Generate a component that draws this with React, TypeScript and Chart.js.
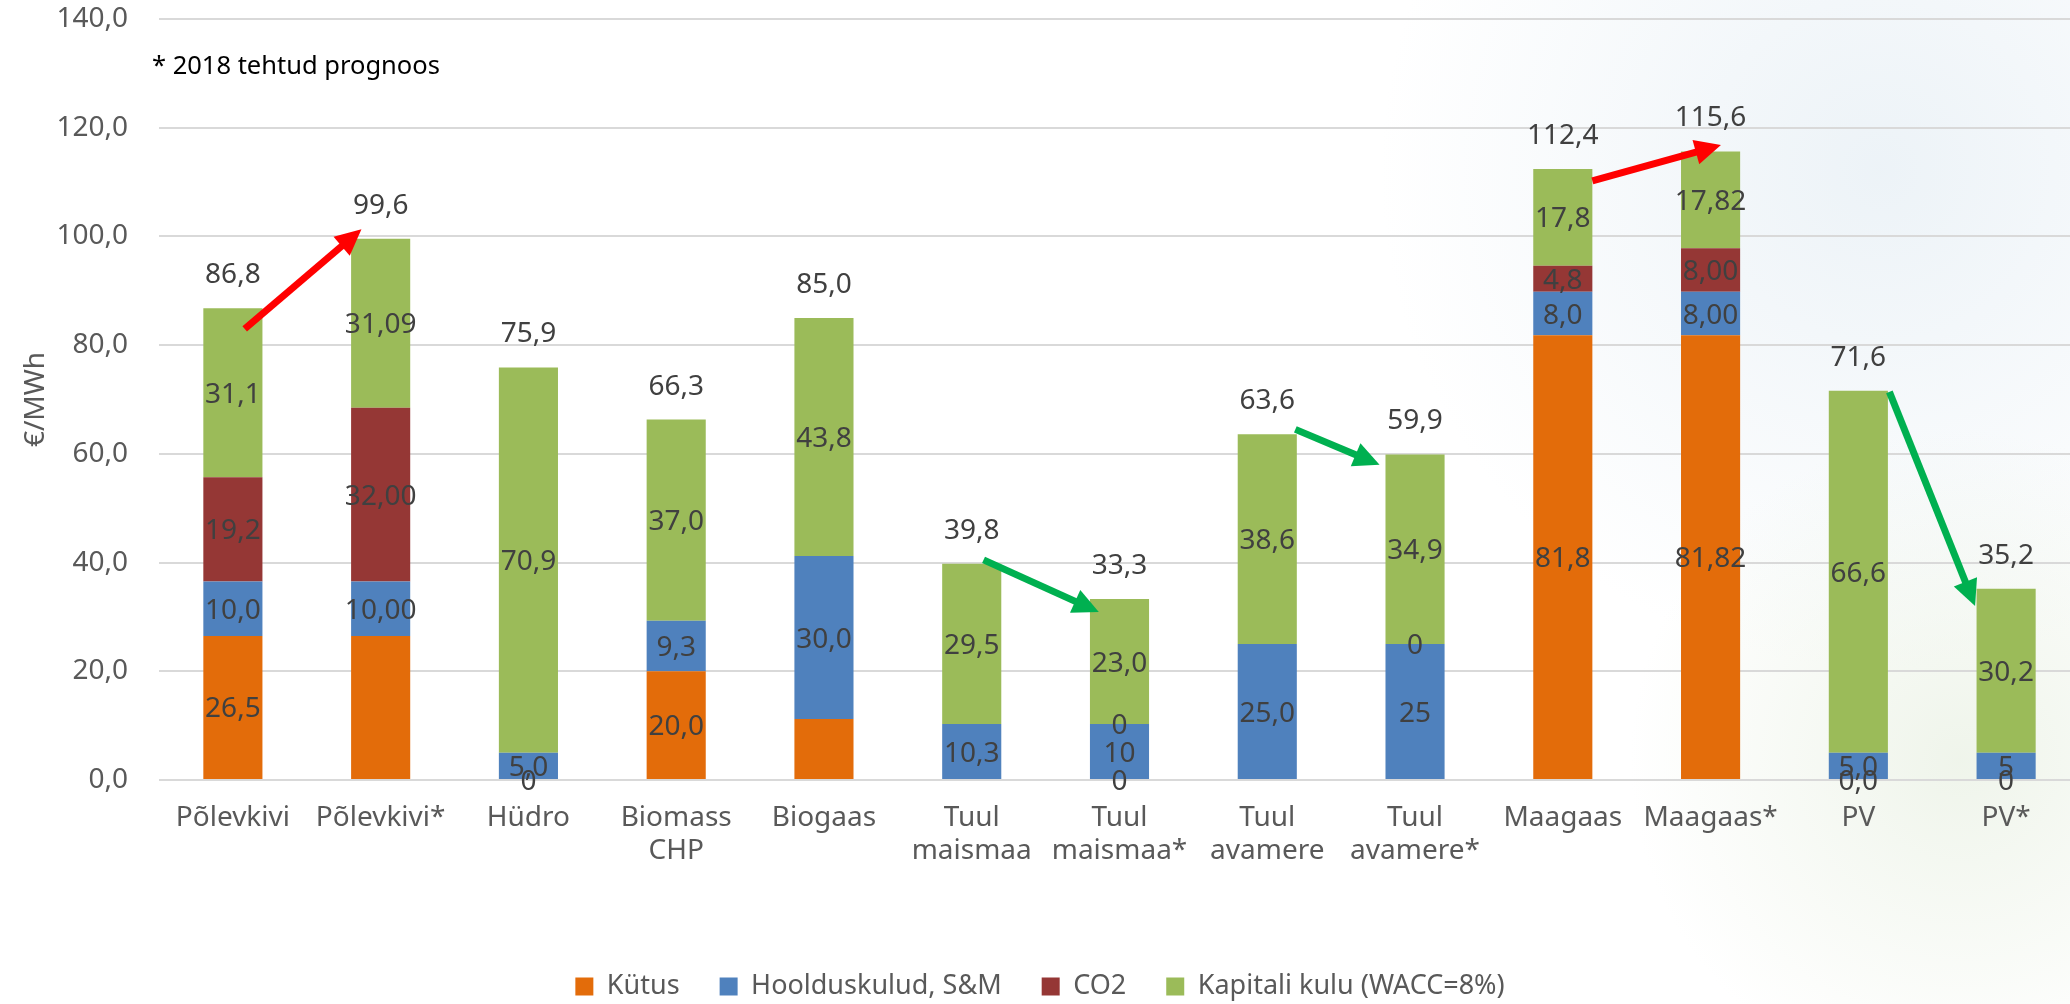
import React, { useEffect, useRef } from "react";
import { Chart, registerables } from "chart.js";

Chart.register(...registerables);

const FONT = "'Noto Sans', 'DejaVu Sans', sans-serif";

// ---- data ----
const categories: (string | string[])[] = [
  "Põlevkivi",
  "Põlevkivi*",
  "Hüdro",
  ["Biomass", "CHP"],
  "Biogaas",
  ["Tuul", "maismaa"],
  ["Tuul", "maismaa*"],
  ["Tuul", "avamere"],
  ["Tuul", "avamere*"],
  "Maagaas",
  "Maagaas*",
  "PV",
  "PV*",
];

const seriesNames = ["Kütus", "Hoolduskulud, S&M", "CO2", "Kapitali kulu (WACC=8%)"];

const kytus = [26.5, 26.5, 0, 20.0, 11.2, null, 0, null, null, 81.8, 81.82, 0, 0];
const hooldus = [10.0, 10.0, 5.0, 9.3, 30.0, 10.3, 10.3, 25.0, 25.0, 8.0, 8.0, 5.0, 5.0];
const co2 = [19.2, 32.0, null, null, null, null, 0, null, 0, 4.8, 8.0, null, null];
const kapital = [31.1, 31.09, 70.9, 37.0, 43.8, 29.5, 23.0, 38.6, 34.9, 17.8, 17.82, 66.6, 30.2];

// decimals used by each data label (null = no label shown)
const kytusDecimals = [1, null, 0, 1, null, null, 0, null, null, 1, 2, 1, 0];
const hooldusDecimals = [1, 2, 1, 1, 1, 1, 0, 1, 0, 1, 2, 1, 0];
const co2Decimals = [1, 2, null, null, null, null, 0, null, 0, 1, 2, null, null];
const kapitalDecimals = [1, 2, 1, 1, 1, 1, 1, 1, 1, 1, 2, 1, 1];

const seriesColors = ["#E36C0A", "#4F81BD", "#953735", "#9BBB59"];

const yTicksMin = 0;
const yTicksMax = 140;
const yTicksStep = 20;

const noteText = "* 2018 tehtud prognoos";
const yTitle = "€/MWh";

// arrows: [category position, value]
const arrowFrom = [
  [0.08, 83.0],
  [9.2, 110.2],
  [5.08, 40.5],
  [7.19, 64.5],
  [11.21, 71.4],
];
const arrowTo = [
  [0.87, 101.3],
  [10.07, 116.8],
  [5.86, 30.9],
  [7.76, 58.0],
  [11.79, 32.0],
];
const arrowColors = ["#FF0000", "#FF0000", "#00B050", "#00B050", "#00B050"];

// ---- helpers ----
const seriesValues = [kytus, hooldus, co2, kapital];
const seriesDecimals = [kytusDecimals, hooldusDecimals, co2Decimals, kapitalDecimals];

function fmt(v: number, d: number) {
  return v.toFixed(d).replace(".", ",");
}

const totals = categories.map((_, i) =>
  seriesValues.reduce((s, arr) => s + (arr[i] == null ? 0 : (arr[i] as number)), 0)
);

function catPixel(chart: any, pos: number) {
  const x = chart.scales.x;
  const i = Math.floor(pos);
  const f = pos - i;
  const p0 = x.getPixelForValue(i);
  const p1 = x.getPixelForValue(i + 1 < categories.length ? i + 1 : i) + (i + 1 < categories.length ? 0 : x.width / categories.length);
  return p0 + f * (p1 - p0);
}

const backgroundPlugin = {
  id: "bg",
  beforeDraw(chart: any) {
    const ctx = chart.ctx;
    ctx.save();
    ctx.fillStyle = "#FFFFFF";
    ctx.fillRect(0, 0, chart.width, chart.height);
    let g = ctx.createRadialGradient(1880, 170, 0, 1880, 170, 500);
    g.addColorStop(0, "rgba(214,228,238,0.45)");
    g.addColorStop(1, "rgba(214,228,238,0)");
    ctx.fillStyle = g;
    ctx.fillRect(0, 0, chart.width, chart.height);
    g = ctx.createRadialGradient(1960, 760, 0, 1960, 760, 330);
    g.addColorStop(0, "rgba(226,236,218,0.55)");
    g.addColorStop(1, "rgba(226,236,218,0)");
    ctx.fillStyle = g;
    ctx.fillRect(0, 0, chart.width, chart.height);
    ctx.restore();
  },
};

const labelsPlugin = {
  id: "segLabels",
  afterDatasetsDraw(chart: any) {
    const ctx = chart.ctx;
    ctx.save();
    ctx.font = `28px ${FONT}`;
    ctx.fillStyle = "#404040";
    ctx.textAlign = "center";
    ctx.textBaseline = "alphabetic";
    seriesValues.forEach((vals, d) => {
      const meta = chart.getDatasetMeta(d);
      vals.forEach((v, i) => {
        const dec = seriesDecimals[d][i];
        if (v == null || dec == null) return;
        const el = meta.data[i];
        const { x, y, base } = el.getProps(["x", "y", "base"], true);
        const cy = (y + base) / 2;
        ctx.fillText(fmt(v as number, dec), x, cy + 10);
      });
    });
    const xs = chart.scales.x;
    const ys = chart.scales.y;
    totals.forEach((t, i) => {
      const x = xs.getPixelForValue(i);
      const y = ys.getPixelForValue(t);
      ctx.fillText(fmt(t, 1), x, y - 25);
    });
    ctx.restore();
  },
};

const annotationPlugin = {
  id: "annot",
  afterDraw(chart: any) {
    const ctx = chart.ctx;
    const ys = chart.scales.y;
    const area = chart.chartArea;
    ctx.save();
    ctx.font = `25.5px ${FONT}`;
    ctx.fillStyle = "#000000";
    ctx.textAlign = "left";
    ctx.textBaseline = "alphabetic";
    ctx.fillText(noteText, area.left - 7, area.top + 55);

    arrowFrom.forEach((from, k) => {
      const to = arrowTo[k];
      const x0 = catPixel(chart, from[0]);
      const y0 = ys.getPixelForValue(from[1]);
      const x1 = catPixel(chart, to[0]);
      const y1 = ys.getPixelForValue(to[1]);
      const ang = Math.atan2(y1 - y0, x1 - x0);
      const headLen = 26;
      const headHalf = 12.5;
      const bx = x1 - headLen * Math.cos(ang);
      const by = y1 - headLen * Math.sin(ang);
      ctx.strokeStyle = arrowColors[k];
      ctx.fillStyle = arrowColors[k];
      ctx.lineWidth = 7;
      ctx.lineCap = "butt";
      ctx.beginPath();
      ctx.moveTo(x0, y0);
      ctx.lineTo(bx + 2 * Math.cos(ang), by + 2 * Math.sin(ang));
      ctx.stroke();
      ctx.beginPath();
      ctx.moveTo(x1, y1);
      ctx.lineTo(bx + headHalf * Math.sin(ang), by - headHalf * Math.cos(ang));
      ctx.lineTo(bx - headHalf * Math.sin(ang), by + headHalf * Math.cos(ang));
      ctx.closePath();
      ctx.fill();
    });
    ctx.restore();
  },
};

export default function App() {
  const ref = useRef<HTMLCanvasElement | null>(null);

  useEffect(() => {
    document.documentElement.style.overflow = "hidden";
    document.body.style.overflow = "hidden";
    const canvas = ref.current;
    if (!canvas) return;
    const chart = new Chart(canvas, {
      type: "bar",
      data: {
        labels: categories as any,
        datasets: seriesNames.map((name, d) => ({
          label: name,
          data: seriesValues[d] as any,
          backgroundColor: seriesColors[d],
          borderWidth: 0,
          barPercentage: 0.4,
          categoryPercentage: 1,
        })),
      },
      options: {
        responsive: false,
        animation: false,
        devicePixelRatio: 1,
        layout: { padding: { top: 19, left: 0, right: 0, bottom: -6 } },
        plugins: {
          legend: {
            position: "bottom",
            labels: {
              boxWidth: 18,
              boxHeight: 18,
              padding: 40,
              color: "#595959",
              font: { family: FONT, size: 27 },
            },
          },
          tooltip: { enabled: false },
          title: { display: false },
        },
        scales: {
          x: {
            stacked: true,
            grid: { display: false, drawTicks: false },
            border: { display: false },
            ticks: {
              color: "#595959",
              font: { family: FONT, size: 28 },
              padding: 21,
              maxRotation: 0,
              minRotation: 0,
              autoSkip: false,
            },
            afterFit: (s: any) => {
              s.height = 153;
            },
          },
          y: {
            stacked: true,
            min: yTicksMin,
            max: yTicksMax,
            grid: { color: "#D9D9D9", lineWidth: 2, drawTicks: false },
            border: { display: false },
            ticks: {
              stepSize: yTicksStep,
              color: "#595959",
              font: { family: FONT, size: 28 },
              padding: 31,
              callback: (v: any) => fmt(Number(v), 1),
            },
            title: {
              display: true,
              text: yTitle,
              color: "#595959",
              font: { family: FONT, size: 28 },
              padding: { top: 19, bottom: 0 },
            },
            afterFit: (s: any) => {
              s.width = 159;
              s.paddingTop = 0;
              s.paddingBottom = 0;
            },
          },
        },
      },
      plugins: [backgroundPlugin, labelsPlugin, annotationPlugin],
    } as any);
    return () => chart.destroy();
  }, []);

  return (
    <div style={{ position: "absolute", left: 0, top: 0, width: 2080, height: 1004, overflow: "hidden" }}>
      <canvas ref={ref} width={2080} height={1004} style={{ display: "block", width: 2080, height: 1004 }} />
    </div>
  );
}
